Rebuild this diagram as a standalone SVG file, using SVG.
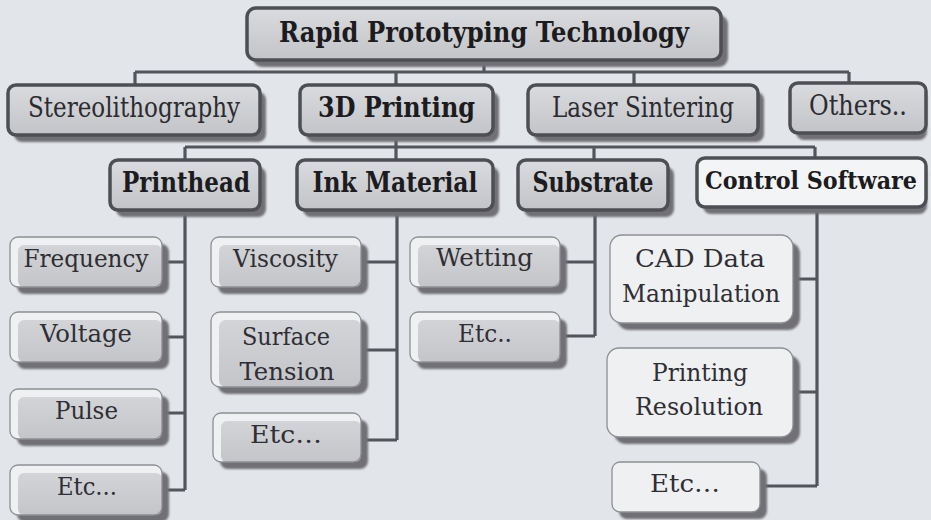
<svg xmlns="http://www.w3.org/2000/svg" width="931" height="520" viewBox="0 0 931 520">
<defs>
<linearGradient id="g" x1="0" y1="0" x2="0" y2="1"><stop offset="0" stop-color="#dadbde"/><stop offset="1" stop-color="#c3c4c8"/></linearGradient>
<linearGradient id="gl" x1="0" y1="0" x2="0" y2="1"><stop offset="0" stop-color="#d3d4d7"/><stop offset="1" stop-color="#c4c5c9"/></linearGradient>
<filter id="b" x="-10%" y="-20%" width="130%" height="150%"><feGaussianBlur stdDeviation="1.3"/></filter>
<style>
.sh{fill:#6f7076;filter:url(#b)}
.bx{fill:url(#g);stroke:#4d4f55;stroke-width:3.5}
.bw{fill:#f3f4f6;stroke:#4d4f55;stroke-width:3.5}
.lt{fill:#eef0f2}
.gf{fill:url(#gl)}
.ol{fill:none;stroke:#8d8f94;stroke-width:1.3}
.c{fill:none;stroke:#53555c;stroke-width:3.2}
.t{font-size:27px;fill:#2b2b30;font-family:'DejaVu Serif'}
.tb{font-size:27px;font-weight:bold;fill:#1c1c20;font-family:'DejaVu Serif'}
.tc{font-size:23.5px;font-weight:bold;fill:#1c1c20;font-family:'DejaVu Serif'}
.s{font-size:25px;fill:#2e2e33;font-family:'DejaVu Serif'}
</style>
</defs>
<rect width="931" height="520" fill="#e2e5e9"/>
<g id="connectors">
<path class="c" d="M484 60V72M135 72H849M135 72V85M396 72V85M634 72V85M849 72V85"/>
<path class="c" d="M396 135V147M185 147H815M185 147V160M396 147V160M594 147V160M815 147V160"/>
<path class="c" d="M185 210V490M162 262H185M162 337H185M162 413H185M162 490H185"/>
<path class="c" d="M397 210V440M361 262H397M361 350H397M361 440H397"/>
<path class="c" d="M595 210V336M560 262H595M560 336H595"/>
<path class="c" d="M817 207V486M793 279H817M793 392H817M760 486H817"/>
</g>
<g text-anchor="middle">
<g id="n-rpt"><rect class="sh" x="253" y="15" width="475" height="52" rx="9"/><rect class="bx" x="247" y="8" width="474" height="52" rx="9"/><text class="tb" x="484" y="42" textLength="410" lengthAdjust="spacingAndGlyphs">Rapid Prototyping Technology</text></g>
<g id="n-stereo"><rect class="sh" x="14" y="92" width="252" height="50" rx="8"/><rect class="bx" x="8" y="85" width="252" height="50" rx="8"/><text class="t" x="134" y="117" textLength="212" lengthAdjust="spacingAndGlyphs">Stereolithography</text></g>
<g id="n-3dp"><rect class="sh" x="306" y="92" width="193" height="50" rx="8"/><rect class="bx" x="300" y="85" width="193" height="50" rx="8"/><text class="tb" x="396.5" y="117" textLength="157" lengthAdjust="spacingAndGlyphs">3D Printing</text></g>
<g id="n-laser"><rect class="sh" x="534" y="92" width="230" height="50" rx="8"/><rect class="bx" x="528" y="85" width="230" height="50" rx="8"/><text class="t" x="643" y="117" textLength="182" lengthAdjust="spacingAndGlyphs">Laser Sintering</text></g>
<g id="n-others"><rect class="sh" x="796" y="90" width="131" height="50" rx="8"/><rect class="bx" x="790" y="83" width="136" height="50" rx="8"/><text class="t" x="858" y="115" textLength="98" lengthAdjust="spacingAndGlyphs">Others..</text></g>
<g id="n-printhead"><rect class="sh" x="116" y="167" width="150" height="50" rx="8"/><rect class="bx" x="110" y="160" width="150" height="50" rx="8"/><text class="tb" x="186" y="192" textLength="128" lengthAdjust="spacingAndGlyphs">Printhead</text></g>
<g id="n-ink"><rect class="sh" x="303" y="167" width="196" height="50" rx="8"/><rect class="bx" x="297" y="160" width="196" height="50" rx="8"/><text class="tb" x="395" y="192" textLength="165" lengthAdjust="spacingAndGlyphs">Ink Material</text></g>
<g id="n-substrate"><rect class="sh" x="524" y="167" width="150" height="50" rx="8"/><rect class="bx" x="518" y="160" width="150" height="50" rx="8"/><text class="tb" x="593" y="192" textLength="121" lengthAdjust="spacingAndGlyphs">Substrate</text></g>
<g id="n-control"><rect class="sh" x="703" y="165" width="224" height="49" rx="8"/><rect class="bw" x="697" y="158" width="229" height="49" rx="8"/><text class="tc" x="811" y="189" textLength="212" lengthAdjust="spacingAndGlyphs">Control Software</text></g>
<g id="n-frequency"><rect class="sh" x="17" y="244" width="152" height="50" rx="8"/><rect class="lt" x="10" y="237" width="152" height="50" rx="8"/><rect class="gf" x="18" y="245" width="144" height="42" rx="6"/><rect class="ol" x="10" y="237" width="152" height="50" rx="8"/><text class="s" x="86" y="267" textLength="125" lengthAdjust="spacingAndGlyphs">Frequency</text></g>
<g id="n-voltage"><rect class="sh" x="17" y="319" width="152" height="50" rx="8"/><rect class="lt" x="10" y="312" width="152" height="50" rx="8"/><rect class="gf" x="18" y="320" width="144" height="42" rx="6"/><rect class="ol" x="10" y="312" width="152" height="50" rx="8"/><text class="s" x="86" y="342" textLength="92" lengthAdjust="spacingAndGlyphs">Voltage</text></g>
<g id="n-pulse"><rect class="sh" x="17" y="396" width="152" height="50" rx="8"/><rect class="lt" x="10" y="389" width="152" height="50" rx="8"/><rect class="gf" x="18" y="397" width="144" height="42" rx="6"/><rect class="ol" x="10" y="389" width="152" height="50" rx="8"/><text class="s" x="86.5" y="419" textLength="63" lengthAdjust="spacingAndGlyphs">Pulse</text></g>
<g id="n-etc1"><rect class="sh" x="17" y="472" width="152" height="50" rx="8"/><rect class="lt" x="10" y="465" width="152" height="50" rx="8"/><rect class="gf" x="18" y="473" width="144" height="42" rx="6"/><rect class="ol" x="10" y="465" width="152" height="50" rx="8"/><text class="s" x="87" y="495" textLength="60" lengthAdjust="spacingAndGlyphs">Etc...</text></g>
<g id="n-viscosity"><rect class="sh" x="218" y="244" width="150" height="50" rx="8"/><rect class="lt" x="211" y="237" width="150" height="50" rx="8"/><rect class="gf" x="219" y="245" width="142" height="42" rx="6"/><rect class="ol" x="211" y="237" width="150" height="50" rx="8"/><text class="s" x="285.5" y="267" textLength="105" lengthAdjust="spacingAndGlyphs">Viscosity</text></g>
<g id="n-surface"><rect class="sh" x="218" y="319" width="150" height="75" rx="9"/><rect class="lt" x="211" y="312" width="150" height="75" rx="9"/><rect class="gf" x="219" y="320" width="142" height="67" rx="7"/><rect class="ol" x="211" y="312" width="150" height="75" rx="9"/><text class="s" x="286" y="345" textLength="88" lengthAdjust="spacingAndGlyphs">Surface</text><text class="s" x="287" y="380" textLength="95" lengthAdjust="spacingAndGlyphs">Tension</text></g>
<g id="n-etc2"><rect class="sh" x="220" y="420" width="148" height="49" rx="8"/><rect class="lt" x="213" y="413" width="148" height="49" rx="8"/><rect class="gf" x="221" y="421" width="140" height="41" rx="6"/><rect class="ol" x="213" y="413" width="148" height="49" rx="8"/><text class="s" x="286" y="443" textLength="72" lengthAdjust="spacingAndGlyphs">Etc…</text></g>
<g id="n-wetting"><rect class="sh" x="417" y="244" width="150" height="50" rx="8"/><rect class="lt" x="410" y="237" width="150" height="50" rx="8"/><rect class="gf" x="418" y="245" width="142" height="42" rx="6"/><rect class="ol" x="410" y="237" width="150" height="50" rx="8"/><text class="s" x="484.5" y="266" textLength="97" lengthAdjust="spacingAndGlyphs">Wetting</text></g>
<g id="n-etc3"><rect class="sh" x="417" y="319" width="150" height="50" rx="8"/><rect class="lt" x="410" y="312" width="150" height="50" rx="8"/><rect class="gf" x="418" y="320" width="142" height="42" rx="6"/><rect class="ol" x="410" y="312" width="150" height="50" rx="8"/><text class="s" x="485" y="342" textLength="54" lengthAdjust="spacingAndGlyphs">Etc..</text></g>
<g id="n-cad"><rect class="sh" x="617" y="242" width="183" height="88" rx="12"/><rect class="lt" x="610" y="235" width="183" height="88" rx="12"/><rect class="ol" x="610" y="235" width="183" height="88" rx="12"/><text class="s" x="700" y="267" textLength="130" lengthAdjust="spacingAndGlyphs">CAD Data</text><text class="s" x="701" y="302" textLength="158" lengthAdjust="spacingAndGlyphs">Manipulation</text></g>
<g id="n-resolution"><rect class="sh" x="614" y="355" width="186" height="89" rx="12"/><rect class="lt" x="607" y="348" width="186" height="89" rx="12"/><rect class="ol" x="607" y="348" width="186" height="89" rx="12"/><text class="s" x="700" y="381" textLength="96" lengthAdjust="spacingAndGlyphs">Printing</text><text class="s" x="699" y="415" textLength="128" lengthAdjust="spacingAndGlyphs">Resolution</text></g>
<g id="n-etc4"><rect class="sh" x="619" y="469" width="148" height="50" rx="8"/><rect class="lt" x="612" y="462" width="148" height="50" rx="8"/><rect class="ol" x="612" y="462" width="148" height="50" rx="8"/><text class="s" x="685" y="492" textLength="70" lengthAdjust="spacingAndGlyphs">Etc…</text></g>
</g>
</svg>
